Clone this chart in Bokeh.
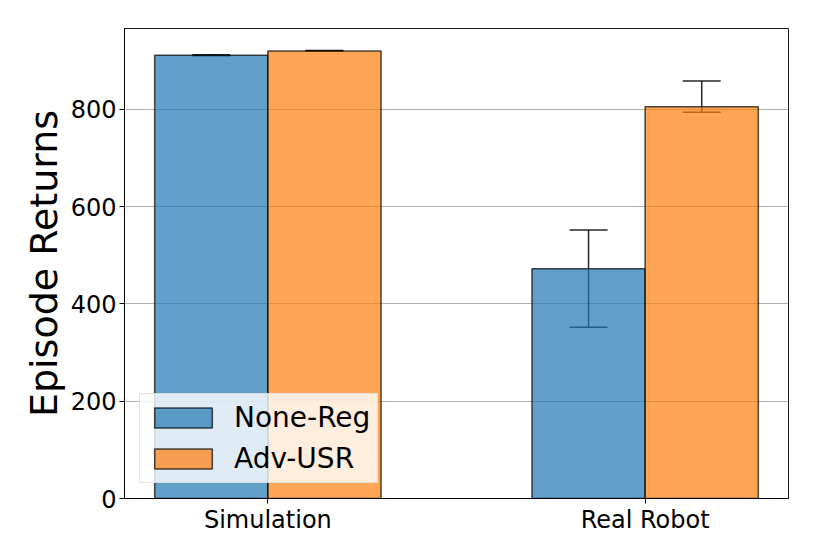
import numpy as np
from bokeh.plotting import figure
from bokeh.models import ColumnDataSource, Whisker, TeeHead, FixedTicker, Legend, LegendItem
from bokeh.embed import file_html
from bokeh.resources import INLINE

categories = ["Simulation", "Real Robot"]
none_reg = [911, 472]
none_reg_low = [910, 352]
none_reg_high = [912, 552]
adv_usr = [920, 805]
adv_usr_low = [919, 794]
adv_usr_high = [921, 858]
y_ticks = [0, 200, 400, 600, 800]

FONT = "DejaVu Sans"
BLUE = "#1f77b4"
ORANGE = "#ff7f0e"
bar_w = 0.3

idx = np.arange(len(categories))

p = figure(width=822, height=546, frame_width=664, frame_height=470,
           min_border_left=124, min_border_right=34, min_border_top=28, min_border_bottom=48,
           x_range=(-0.38, 1.38), y_range=(0, 966),
           output_backend="svg", toolbar_location=None, tools="")

src_a = ColumnDataSource(dict(x=idx - bar_w / 2, top=none_reg, lo=none_reg_low, hi=none_reg_high))
src_b = ColumnDataSource(dict(x=idx + bar_w / 2, top=adv_usr, lo=adv_usr_low, hi=adv_usr_high))

ra = p.vbar(x="x", top="top", width=bar_w, source=src_a, fill_color=BLUE, fill_alpha=0.7,
            line_color="black", line_alpha=0.7, line_width=1.5)
rb = p.vbar(x="x", top="top", width=bar_w, source=src_b, fill_color=ORANGE, fill_alpha=0.7,
            line_color="black", line_alpha=0.7, line_width=1.5)

for s in (src_a, src_b):
    w = Whisker(base="x", lower="lo", upper="hi", source=s, dimension="height",
                line_color="black", line_alpha=0.85, line_width=1.5,
                upper_head=TeeHead(size=38, line_color="black", line_alpha=0.85, line_width=1.5),
                lower_head=TeeHead(size=38, line_color="black", line_alpha=0.85, line_width=1.5))
    p.add_layout(w)

# axes
p.xaxis.ticker = FixedTicker(ticks=list(idx))
p.xaxis.major_label_overrides = {int(i): c for i, c in zip(idx, categories)}
p.yaxis.ticker = FixedTicker(ticks=y_ticks)
for ax in (p.xaxis, p.yaxis):
    ax.major_label_text_font = FONT
    ax.major_label_text_font_size = "24px"
    ax.major_label_text_color = "black"
    ax.axis_line_color = "black"
    ax.major_tick_line_color = "black"
    ax.major_tick_in = 0
    ax.major_tick_out = 5
    ax.minor_tick_line_color = None
p.xaxis.major_label_standoff = 2
p.yaxis.major_label_standoff = 3
p.yaxis.axis_label = "Episode Returns"
p.yaxis.axis_label_text_font = FONT
p.yaxis.axis_label_text_font_size = "38px"
p.yaxis.axis_label_text_font_style = "normal"
p.yaxis.axis_label_text_color = "black"
p.yaxis.axis_label_standoff = 2

p.xgrid.grid_line_color = None
p.ygrid.grid_line_color = "#b0b0b0"
p.ygrid.grid_line_width = 1
p.outline_line_color = "black"
p.outline_line_width = 1
p.outline_line_alpha = 0.9

legend = Legend(items=[LegendItem(label="None-Reg", renderers=[ra]),
                       LegendItem(label="Adv-USR", renderers=[rb])],
                location="bottom_left", margin=15, padding=7, spacing=8,
                glyph_width=72, glyph_height=25, label_standoff=15,
                label_text_font=FONT, label_text_font_size="28px", label_text_color="black",
                background_fill_color="white", background_fill_alpha=0.8,
                border_line_color="#cccccc", border_line_width=1)
p.add_layout(legend)

open("out.html", "w").write(file_html(p, INLINE))
